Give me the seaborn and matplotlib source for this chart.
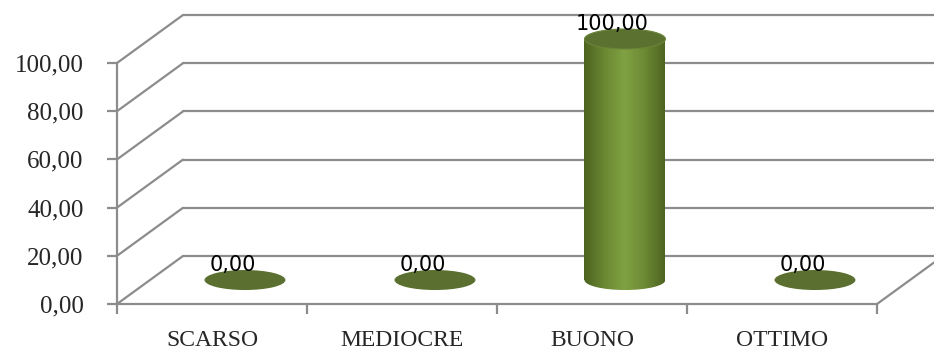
import numpy as np
import pandas as pd
import seaborn as sns
import matplotlib.pyplot as plt
from matplotlib.colors import LinearSegmentedColormap
from matplotlib.patches import Ellipse

sns.set_style('white')
plt.rcParams['font.family'] = ['DejaVu Sans']

categories = ['SCARSO', 'MEDIOCRE', 'BUONO', 'OTTIMO']
values = [0.0, 0.0, 100.0, 0.0]
yticks = [0, 20, 40, 60, 80, 100]

GRID = '#8c8c8c'
DX, DY = 0.347, 19.9      # depth of the 3d box, in data units
BAR_W = 0.426
ELL_H = 8.3

def fmt(v):
    return f'{v:.2f}'.replace('.', ',')

df = pd.DataFrame({'cat': categories, 'val': values})

fig = plt.figure(figsize=(9.34, 3.56), dpi=100)
ax = fig.add_axes([117 / 934, 52 / 356, 760 / 934, 241 / 356])

sns.barplot(data=df, x='cat', y='val', width=BAR_W, color='#6f8d35', ax=ax,
            zorder=3)

# back wall + left wall gridlines
for v in yticks:
    ax.plot([-0.5, -0.5 + DX], [v, v + DY], color=GRID, lw=1.6, clip_on=False, zorder=1)
    ax.plot([-0.5 + DX, 3.5 + DX], [v + DY, v + DY], color=GRID, lw=1.6, clip_on=False, zorder=1)
# right floor edge
ax.plot([3.5, 3.5 + DX], [0, DY], color=GRID, lw=1.6, clip_on=False, zorder=1)

cmap = LinearSegmentedColormap.from_list(
    'cyl', ['#4c6320', '#6a8832', '#80a143', '#6c8a34', '#4e6422'])
grad = np.linspace(0, 1, 256).reshape(1, -1)

for bar, v in zip(list(ax.patches), values):
    bar.set_x(bar.get_x() + DX / 2)
    bar.set_y(DY / 2)
    x0 = bar.get_x()
    w = bar.get_width()
    cx = x0 + w / 2
    base = DY / 2
    top = base + v
    if v > 0:
        bar.set_facecolor('none')
        bar.set_edgecolor('none')
        img = ax.imshow(grad, extent=[x0, x0 + w, base, top], aspect='auto',
                        cmap=cmap, zorder=3)
        img.set_clip_path(bar)
        bot = Ellipse((cx, base), w, ELL_H, facecolor='none', edgecolor='none')
        ax.add_patch(bot)
        img2 = ax.imshow(grad, extent=[x0, x0 + w, base - ELL_H / 2, base],
                         aspect='auto', cmap=cmap, zorder=3)
        img2.set_clip_path(bot)
        ax.add_patch(Ellipse((cx, top), w, ELL_H, facecolor='#5a7130',
                             edgecolor='#6b8438', lw=0.8, zorder=4, clip_on=False))
    else:
        ax.add_patch(Ellipse((cx, base), w, ELL_H, facecolor='#5b7030',
                             edgecolor='none', zorder=4, clip_on=False))
    ax.annotate(fmt(v), (cx, top), xytext=(-9, 11), textcoords='offset points',
                ha='center', va='center', fontsize=15, color='black',
                family='DejaVu Sans', zorder=5, annotation_clip=False)

ax.set_xlim(-0.5, 3.5)
ax.set_ylim(0, 100)
ax.set_facecolor('none')
ax.patch.set_alpha(0)

for s in ['top', 'right']:
    ax.spines[s].set_visible(False)
for s in ['left', 'bottom']:
    ax.spines[s].set_color(GRID)
    ax.spines[s].set_linewidth(1.6)
    ax.spines[s].set_zorder(2)

ax.set_yticks(yticks)
ax.set_yticklabels([fmt(t) for t in yticks], family='Liberation Serif', fontsize=18)
ax.tick_params(axis='y', left=True, length=7, width=1.6, color=GRID, pad=17)

ax.set_xticks(range(len(categories)))
ax.set_xticklabels(categories, family='Liberation Serif', fontsize=17)
ax.set_xticks([-0.5, 0.5, 1.5, 2.5, 3.5], minor=True)
ax.tick_params(axis='x', which='major', bottom=False, pad=15)
ax.tick_params(axis='x', which='minor', bottom=True, length=7, width=1.6, color=GRID)
ax.set_xlabel('')
ax.set_ylabel('')

fig.savefig('out.png', dpi=100)
